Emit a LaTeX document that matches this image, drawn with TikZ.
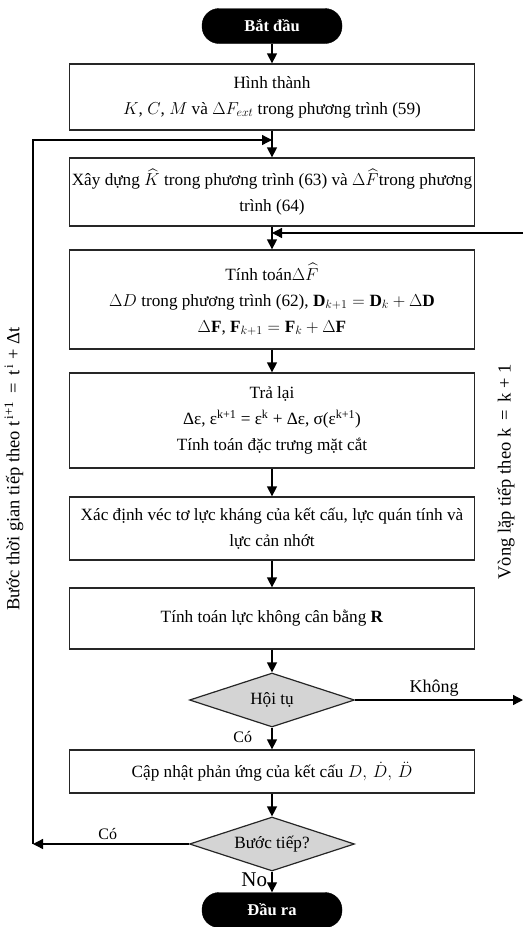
\documentclass[tikz,border=0pt]{standalone}
\usepackage{amsmath,amssymb}
\usepackage{fontspec}
\setmainfont{Liberation Serif}
\usepackage{tikz}
\usetikzlibrary{shapes.geometric,positioning,calc,arrows.meta}
\tikzset{
  term/.style = {rectangle, rounded corners=17pt, draw=black, fill=black, text=white,
                 font=\fontsize{16.5}{18}\selectfont\bfseries, minimum width=140pt, minimum height=35pt},
  proc/.style = {rectangle, draw=black!85, line width=1.3pt, align=center,
                 font=\fontsize{17.2}{26}\selectfont, minimum width=405pt, inner sep=1pt},
  dec/.style  = {diamond, draw=black!85, fill=black!17, line width=1.2pt, aspect=3.05,
                 font=\fontsize{17.2}{18}\selectfont, minimum width=165pt, inner sep=1pt},
  flow/.style = {line width=1.3pt, -{Triangle[width=10pt,length=10pt]}},
  lbl/.style  = {font=\fontsize{16}{18}\selectfont},
  side/.style = {rotate=90, font=\fontsize{18.5}{20}\selectfont},
}

\begin{document}
\begin{tikzpicture}[x=1pt,y=-1pt]
\useasboundingbox (0,0) rectangle (523,927);

%── main column ───────────────────────────────────────────────
\node[term] (start) at (272, 26) {Bắt đầu};
\node[proc, minimum height=66pt] (b1) at (272, 97)
  {Hình thành\\ $K$, $C$, $M$ và $\Delta F_{ext}$ trong phương trình (59)};
\node[proc, minimum height=68pt] (b2) at (272, 192)
  {Xây dựng $\widehat{K}$ trong phương trình (63) và $\Delta\widehat{F}$trong phương\\ trình (64)};
\node[proc, minimum height=99pt] (b3) at (272, 299.5)
  {Tính toán$\Delta\widehat{F}$\\
   $\Delta D$ trong phương trình (62), $\mathbf{D}_{k+1} = \mathbf{D}_{k} + \Delta\mathbf{D}$\\
   $\Delta\mathbf{F}$, $\mathbf{F}_{k+1} = \mathbf{F}_{k} + \Delta\mathbf{F}$};
\node[proc, minimum height=95pt] (b4) at (272, 420.5)
  {Trả lại\\
   Δε, ε\textsuperscript{k+1} = ε\textsuperscript{k} + Δε, σ(ε\textsuperscript{k+1})\\
   Tính toán đặc trưng mặt cắt};
\node[proc, minimum height=63pt] (b5) at (272, 528.5)
  {Xác định véc tơ lực kháng của kết cấu, lực quán tính và\\ lực cản nhớt};
\node[proc, minimum height=61pt] (b6) at (272, 618.5)
  {Tính toán lực không cân bằng \textbf{R}};
\node[dec, minimum height=54pt] (d1) at (272, 700) {Hội tụ};
\node[proc, minimum height=43pt] (b7) at (272, 771.5)
  {Cập nhật phản ứng của kết cấu $D,\,\dot{D},\,\ddot{D}$};
\node[dec, minimum height=54pt] (d2) at (272, 844) {Bước tiếp?};
\node[term] (stop) at (272, 910) {Đầu ra};

% straight arrows
\draw[flow] (start) -- (b1);
\draw[flow] (b1) -- (b2);
\draw[flow] (b2) -- (b3);
\draw[flow] (b3) -- (b4);
\draw[flow] (b4) -- (b5);
\draw[flow] (b5) -- (b6);
\draw[flow] (b6) -- (d1);
\draw[flow] (d1) -- node[lbl, left=16pt, pos=0.45] {Có} (b7);
\draw[flow] (b7) -- (d2);
\draw[flow] (d2) -- node[left=1pt, pos=0.4, font=\fontsize{21}{22}\selectfont] {No} (stop);

%── time-step loop (left) ──────────────────────────────────────
\coordinate (lb) at (33, 844);
\coordinate (lt) at (33, 140);
\coordinate (j1) at (272, 140);
\draw[flow] (d2) -- node[lbl, above, pos=0.52] {Có} (lb);
\draw[flow] (lb) -- (lt) -- (j1);
\node[side] (tlab) at (14, 469)
  {Bước thời gian tiếp theo t\textsuperscript{\,i+1} \,=\, t\textsuperscript{\,i} + Δt};

%── iteration loop (right) ─────────────────────────────────────
\coordinate (kr) at (523, 700);
\coordinate (kt) at (523, 233);
\coordinate (j2) at (272, 233);
\draw[flow] (d1) -- node[above, pos=0.47, font=\fontsize{18}{20}\selectfont] {Không} (kr);
\draw[flow] (kt) -- (j2);
\node[side] (klab) at (506, 472)
  {Vòng lặp tiếp theo k \,=\, k + 1};

\end{tikzpicture}
\end{document}
